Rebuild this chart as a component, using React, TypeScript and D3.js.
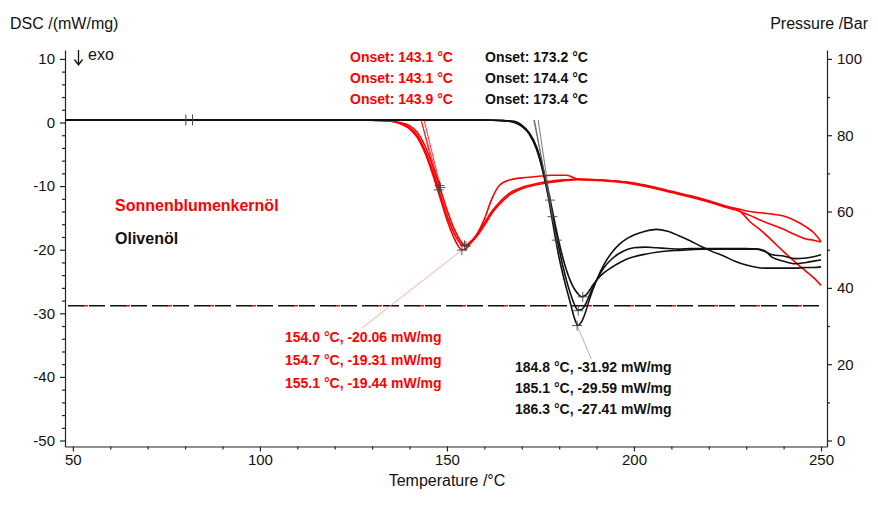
import { useEffect, useRef } from "react";
import * as d3 from "d3";

// sunflower oil (red) — DSC in mW/mg
const redTemps = [48, 70, 100, 125, 134, 138, 140, 142, 144, 146, 148, 150, 152, 154, 155, 156, 158, 160, 162, 164, 167, 170, 174, 178, 182, 185, 190, 195, 200, 205, 210, 215, 220, 225, 228, 231, 234, 237, 240, 243, 246, 248, 250];
const redDsc1 = [0.4, 0.4, 0.4, 0.4, 0.3, -0.3, -1.0, -2.3, -4.6, -7.8, -11.5, -15.3, -18.3, -20.0, -19.9, -19.2, -17.6, -15.2, -12.0, -9.9, -9.0, -8.7, -8.5, -8.3, -8.3, -8.9, -9.0, -9.2, -9.6, -10.2, -10.9, -11.6, -12.4, -13.3, -13.8, -15.6, -17.0, -18.6, -20.3, -21.9, -23.4, -24.4, -25.6];
const redDsc2 = [0.4, 0.4, 0.4, 0.4, 0.3, -0.2, -0.8, -2.0, -4.2, -7.3, -10.9, -14.6, -17.5, -19.2, -19.3, -18.9, -17.6, -15.8, -14.0, -12.6, -11.0, -10.2, -9.6, -9.2, -9.0, -8.9, -9.0, -9.2, -9.5, -10.1, -10.8, -11.5, -12.3, -13.2, -13.6, -14.0, -14.2, -14.4, -14.7, -15.4, -16.4, -17.3, -18.7];
const redDsc3 = [0.4, 0.4, 0.4, 0.4, 0.3, -0.1, -0.5, -1.5, -3.5, -6.5, -10.0, -13.7, -16.8, -18.9, -19.4, -19.1, -17.9, -16.2, -14.3, -12.9, -11.3, -10.4, -9.8, -9.4, -9.1, -9.0, -9.1, -9.3, -9.7, -10.3, -11.0, -11.7, -12.5, -13.4, -13.9, -14.6, -15.4, -16.1, -16.8, -17.6, -18.3, -18.5, -18.8];

// olive oil (black)
const blackTemps = [48, 70, 100, 130, 160, 165, 168, 170, 172, 174, 175, 176, 177, 178, 179, 180, 181, 182, 183, 184, 185, 186, 187, 188, 189, 190, 192, 194, 196, 198, 200, 203, 206, 209, 212, 215, 218, 221, 224, 227, 230, 233, 235, 237, 240, 243, 246, 248, 250];
const blackDsc1 = [0.4, 0.4, 0.4, 0.4, 0.4, 0.3, 0.0, -0.6, -1.8, -4.3, -6.2, -8.6, -11.4, -14.8, -18.2, -21.3, -23.9, -26.2, -28.4, -30.6, -31.9, -31.3, -29.9, -28.0, -26.3, -24.8, -22.3, -20.5, -19.2, -18.3, -17.7, -17.1, -16.8, -17.1, -17.8, -18.6, -19.5, -20.3, -21.0, -21.8, -22.4, -22.8, -22.9, -22.9, -22.9, -22.9, -22.8, -22.8, -22.7];
const blackDsc2 = [0.4, 0.4, 0.4, 0.4, 0.4, 0.3, 0.1, -0.5, -1.7, -4.1, -6.0, -8.3, -10.9, -13.9, -17.0, -19.9, -22.6, -24.9, -26.9, -28.5, -29.5, -29.4, -28.6, -27.3, -26.0, -24.8, -22.8, -21.5, -20.6, -20.0, -19.7, -19.6, -19.7, -19.8, -19.9, -19.8, -19.8, -19.8, -19.8, -19.8, -19.8, -19.9, -20.2, -21.2, -21.8, -22.2, -22.0, -21.8, -21.6];
const blackDsc3 = [0.4, 0.4, 0.4, 0.4, 0.4, 0.3, 0.2, -0.4, -1.6, -3.9, -5.8, -8.0, -10.5, -13.3, -16.2, -18.9, -21.3, -23.3, -24.9, -26.1, -26.9, -27.4, -27.2, -26.5, -25.6, -24.8, -23.6, -22.8, -22.1, -21.5, -21.1, -20.7, -20.4, -20.2, -20.1, -20.0, -19.9, -19.9, -19.9, -19.9, -19.9, -19.9, -20.3, -20.8, -21.0, -21.4, -21.3, -21.1, -20.8];

// pressure (right axis), bar
const pressureTemps = [48.7, 250.3];
const pressureLevel = [35.3, 35.3];

// evaluation results
const redOnsets = [143.1, 143.1, 143.9];
const blackOnsets = [173.2, 174.4, 173.4];
const redInflectT = [148.0, 147.8, 148.3];
const redInflectV = [-9.9, -10.6, -10.2];
const blackInflectT = [177.55, 178.2, 179.35];
const blackInflectV = [-12.2, -14.8, -18.5];
const redPeakT = [154.0, 154.7, 155.1];
const redPeakV = [-20.06, -19.31, -19.44];
const blackPeakT = [184.8, 185.1, 186.3];
const blackPeakV = [-31.92, -29.59, -27.41];
const redLeaderEnd = [127.3, -32.3];
const blackLeaderEnd = [188.6, -37.2];
const cursorTemps = [80.2, 82.0];
const baselineDsc = 0.4;

const font = "'Liberation Sans', Arial, sans-serif";
const RED = "#f00";

export default function App() {
  const ref = useRef<SVGSVGElement>(null);

  useEffect(() => {
    const svg = d3.select(ref.current);
    svg.selectAll("*").remove();

    const x = d3.scaleLinear().domain([47.9, 251.6]).range([65, 827]);
    const y = d3.scaleLinear().domain([-50.94, 11.4]).range([446.5, 50]);
    const yP = d3
      .scaleLinear()
      .domain([((-50.94 + 50) * 100) / 60, ((11.4 + 50) * 100) / 60])
      .range([446.5, 50]);

    const plain = (d: any) => String(d);
    const styleAxis = (g: any) => {
      g.attr("font-size", 15).attr("font-family", font);
      g.selectAll("path, line").attr("stroke", "#222").attr("stroke-width", 1.2);
      g.selectAll("text").attr("fill", "#111");
    };

    // left axis
    svg
      .append("g")
      .attr("transform", "translate(65,0)")
      .call(d3.axisLeft(y).tickValues(d3.range(-50, 11, 10)).tickFormat(plain).tickSize(5).tickSizeOuter(0).tickPadding(5))
      .call(styleAxis);
    svg
      .append("g")
      .attr("transform", "translate(65,0)")
      .call(d3.axisLeft(y).tickValues(d3.range(-50, 11, 2).filter((v) => v % 10 !== 0)).tickSize(3).tickFormat(() => ""))
      .call(styleAxis)
      .select(".domain")
      .remove();

    // bottom axis
    svg
      .append("g")
      .attr("transform", "translate(0,446.5)")
      .call(d3.axisBottom(x).tickValues(d3.range(50, 251, 50)).tickFormat(plain).tickSize(5).tickSizeOuter(0).tickPadding(3))
      .call(styleAxis);
    svg
      .append("g")
      .attr("transform", "translate(0,446.5)")
      .call(d3.axisBottom(x).tickValues(d3.range(60, 250, 10).filter((v) => v % 50 !== 0)).tickSize(3).tickFormat(() => ""))
      .call(styleAxis)
      .select(".domain")
      .remove();

    // right axis
    svg
      .append("g")
      .attr("transform", "translate(827,0)")
      .call(d3.axisRight(yP).tickValues(d3.range(0, 101, 20)).tickFormat(plain).tickSize(5).tickSizeOuter(0).tickPadding(5))
      .call(styleAxis);
    svg
      .append("g")
      .attr("transform", "translate(827,0)")
      .call(d3.axisRight(yP).tickValues(d3.range(10, 100, 20)).tickSize(3).tickFormat(() => ""))
      .call(styleAxis)
      .select(".domain")
      .remove();

    // pressure dashed lines
    const pLine = d3
      .line<number>()
      .x((_, i) => x(pressureTemps[i]))
      .y((d) => yP(d));
    svg
      .append("path")
      .attr("d", pLine(pressureLevel))
      .attr("fill", "none")
      .attr("stroke", RED)
      .attr("stroke-width", 1.6)
      .attr("stroke-dasharray", "5,37")
      .attr("stroke-dashoffset", -15);
    svg
      .append("path")
      .attr("d", pLine(pressureLevel))
      .attr("fill", "none")
      .attr("stroke", "#111")
      .attr("stroke-width", 1.6)
      .attr("stroke-dasharray", "16,5");

    const line = (temps: number[]) =>
      d3
        .line<number>()
        .x((_, i) => x(temps[i]))
        .y((d) => y(d))
        .curve(d3.curveMonotoneX);

    // leader lines
    svg
      .append("line")
      .attr("x1", x(redPeakT[0]))
      .attr("y1", y(redPeakV[0]))
      .attr("x2", x(redLeaderEnd[0]))
      .attr("y2", y(redLeaderEnd[1]))
      .attr("stroke", "#f3a0a0")
      .attr("stroke-width", 0.9);
    svg
      .append("line")
      .attr("x1", x(blackPeakT[0]))
      .attr("y1", y(blackPeakV[0]))
      .attr("x2", x(blackLeaderEnd[0]))
      .attr("y2", y(blackLeaderEnd[1]))
      .attr("stroke", "#aaa")
      .attr("stroke-width", 0.9);

    // curves
    [redDsc1, redDsc2, redDsc3].forEach((s) =>
      svg
        .append("path")
        .attr("d", line(redTemps)(s))
        .attr("fill", "none")
        .attr("stroke", RED)
        .attr("stroke-width", 1.6)
    );
    [blackDsc1, blackDsc2, blackDsc3].forEach((s) =>
      svg
        .append("path")
        .attr("d", line(blackTemps)(s))
        .attr("fill", "none")
        .attr("stroke", "#111")
        .attr("stroke-width", 1.6)
    );

    // onset tangents
    redOnsets.forEach((t, i) =>
      svg
        .append("line")
        .attr("x1", x(t))
        .attr("y1", y(baselineDsc))
        .attr("x2", x(redInflectT[i]))
        .attr("y2", y(redInflectV[i]))
        .attr("stroke", RED)
        .attr("stroke-width", 0.8)
    );
    blackOnsets.forEach((t, i) =>
      svg
        .append("line")
        .attr("x1", x(t))
        .attr("y1", y(baselineDsc))
        .attr("x2", x(blackInflectT[i]))
        .attr("y2", y(blackInflectV[i]))
        .attr("stroke", "#555")
        .attr("stroke-width", 0.8)
    );

    // cross markers
    const cross = (cx: number, cy: number, s: number) => {
      svg
        .append("path")
        .attr("d", `M${cx - s},${cy}H${cx + s}M${cx},${cy - s}V${cy + s}`)
        .attr("stroke", "#444")
        .attr("stroke-width", 0.9);
    };
    redInflectT.forEach((t, i) => cross(x(t), y(redInflectV[i]), 5));
    blackInflectT.forEach((t, i) => cross(x(t), y(blackInflectV[i]), 5));
    redPeakT.forEach((t, i) => cross(x(t), y(redPeakV[i]), 5));
    blackPeakT.forEach((t, i) => cross(x(t), y(blackPeakV[i]), 5));
    cursorTemps.forEach((t) =>
      svg
        .append("line")
        .attr("x1", x(t))
        .attr("x2", x(t))
        .attr("y1", y(baselineDsc) - 5.5)
        .attr("y2", y(baselineDsc) + 5.5)
        .attr("stroke", "#444")
        .attr("stroke-width", 1)
    );

    // texts
    const text = (tx: number, ty: number, s: string, opts: any = {}) =>
      svg
        .append("text")
        .attr("x", tx)
        .attr("y", ty)
        .attr("font-family", font)
        .attr("font-size", opts.size ?? 14)
        .attr("font-weight", opts.bold ? "bold" : "normal")
        .attr("fill", opts.color ?? "#111")
        .attr("text-anchor", opts.anchor ?? "start")
        .text(s);

    text(10, 29, "DSC /(mW/mg)", { size: 16 });
    text(868, 29, "Pressure /Bar", { size: 16, anchor: "end" });
    text(447, 486, "Temperature /°C", { size: 16, anchor: "middle" });
    // "↓ exo" marker
    svg
      .append("path")
      .attr("d", "M78.5,50V64M74.5,59.5L78.5,65L82.5,59.5")
      .attr("fill", "none")
      .attr("stroke", "#111")
      .attr("stroke-width", 1.3);
    text(88, 60, "exo", { size: 16 });

    const onsetRows = [62, 83, 104];
    redOnsets.forEach((t, i) =>
      text(350, onsetRows[i], `Onset: ${t.toFixed(1)} °C`, { bold: true, color: RED })
    );
    blackOnsets.forEach((t, i) =>
      text(485, onsetRows[i], `Onset: ${t.toFixed(1)} °C`, { bold: true })
    );

    const redRows = [342, 365, 388];
    redPeakT.forEach((t, i) =>
      text(285, redRows[i], `${t.toFixed(1)} °C, ${redPeakV[i].toFixed(2)} mW/mg`, { bold: true, color: RED })
    );
    const blackRows = [372, 393, 414];
    blackPeakT.forEach((t, i) =>
      text(515, blackRows[i], `${t.toFixed(1)} °C, ${blackPeakV[i].toFixed(2)} mW/mg`, { bold: true })
    );

    text(115, 211, "Sonnenblumenkernöl", { size: 16, bold: true, color: RED });
    text(115, 244, "Olivenöl", { size: 16, bold: true });
  }, []);

  return (
    <svg
      ref={ref}
      width={878}
      height={507}
      style={{ position: "absolute", left: 0, top: 0, background: "#fff" }}
    />
  );
}
